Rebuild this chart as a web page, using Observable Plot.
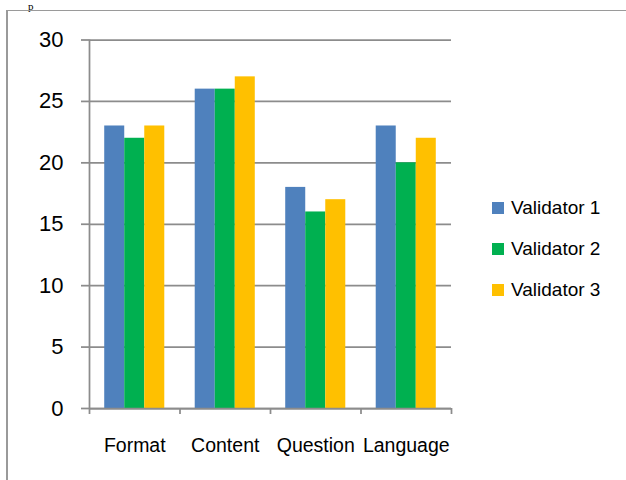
<!DOCTYPE html>
<html>
<head>
<meta charset="utf-8">
<script src="https://cdn.jsdelivr.net/npm/d3@7"></script>
<script src="https://cdn.jsdelivr.net/npm/@observablehq/plot@0.6"></script>
<style>
  html, body { margin: 0; padding: 0; background: #fff; }
  #wrap { position: relative; width: 626px; height: 480px; overflow: hidden; font-family: "Liberation Sans", Arial, sans-serif; color: #000; }
  #frameTop { position: absolute; left: 6px; top: 10px; width: 630px; height: 0; border-top: 1.5px solid #9a9a9a; }
  #frameLeft { position: absolute; left: 6px; top: 10px; width: 0; height: 480px; border-left: 2px solid #9a9a9a; }
  #stray { position: absolute; left: 28px; top: 0px; font-family: "Liberation Serif", serif; font-size: 11px; line-height: normal; }
  .layer { position: absolute; left: 0; top: 0; }
  #legend { position: absolute; left: 492px; top: 187.5px; font-size: 19px; }
  #legend .row { display: flex; align-items: center; height: 41px; white-space: nowrap; }
  #legend .sw { width: 12px; height: 12px; margin-right: 7px; }
</style>
</head>
<body>
<div id="wrap">
  <div id="stray">p</div>
  <div id="frameTop"></div>
  <div id="frameLeft"></div>
  <div id="bg" class="layer"></div>
  <div id="fg" class="layer"></div>
  <div id="legend"></div>
</div>
<script>
// ---- data ----
const categories = ["Format", "Content", "Question", "Language"];
const validators = ["Validator 1", "Validator 2", "Validator 3"];
const colors = ["#4F81BD", "#00B050", "#FFC000"];
const validator1 = [23, 26, 18, 23];
const validator2 = [22, 26, 16, 20];
const validator3 = [23, 27, 17, 22];
const yTicks = [0, 5, 10, 15, 20, 25, 30];

const series = [validator1, validator2, validator3];
const rows = categories.flatMap((c, i) =>
  validators.map((v, j) => ({category: c, validator: v, value: series[j][i]}))
);

// ---- layout ----
const W = 626, H = 480;
const margins = {marginLeft: 89, marginRight: 175, marginTop: 39.5, marginBottom: 72};
const gray = "#8c8c8c";
const gw = 1.75;
const font = '"Liberation Sans", Arial, sans-serif';

// background: gridlines, y axis, category boundary ticks
const bg = Plot.plot({
  width: W, height: H, ...margins,
  style: {fontFamily: font, background: "transparent", color: "#000"},
  x: {domain: [0, categories.length], axis: null},
  y: {domain: [0, 30], axis: null},
  marks: [
    Plot.ruleY(yTicks, {stroke: gray, strokeWidth: gw}),
    Plot.ruleX([0], {y1: 0, y2: 30, stroke: gray, strokeWidth: gw}),
    Plot.axisY({ticks: yTicks, tickSize: 8, tickPadding: 18, fontSize: 22, stroke: gray, strokeWidth: gw, strokeOpacity: 1, label: null}),
    Plot.axisX({ticks: d3.range(categories.length + 1), tickFormat: () => "", tickSize: 6, stroke: gray, strokeWidth: gw, strokeOpacity: 1, label: null})
  ]
});
document.getElementById("bg").appendChild(bg);

// foreground: grouped bars faceted by category
const fg = Plot.plot({
  width: W, height: H, ...margins,
  style: {fontFamily: font, background: "transparent", color: "#000"},
  fx: {domain: categories, padding: 0, round: false, label: null},
  x: {domain: validators, paddingInner: 0, paddingOuter: 0.76, round: false, axis: null},
  y: {domain: [0, 30], axis: null},
  color: {domain: validators, range: colors},
  marks: [
    Plot.barY(rows, {fx: "category", x: "validator", y: "value", fill: "validator"}),
    Plot.ruleY([0], {stroke: gray, strokeWidth: gw}),
    Plot.axisFx({anchor: "bottom", tickSize: 0, tickPadding: 29.5, fontSize: 19.5, label: null})
  ]
});
document.getElementById("fg").appendChild(fg);

// legend
const leg = document.getElementById("legend");
validators.forEach((v, j) => {
  const row = document.createElement("div");
  row.className = "row";
  const sw = document.createElement("div");
  sw.className = "sw";
  sw.style.background = colors[j];
  const t = document.createElement("span");
  t.textContent = v;
  row.appendChild(sw);
  row.appendChild(t);
  leg.appendChild(row);
});
</script>
</body>
</html>
